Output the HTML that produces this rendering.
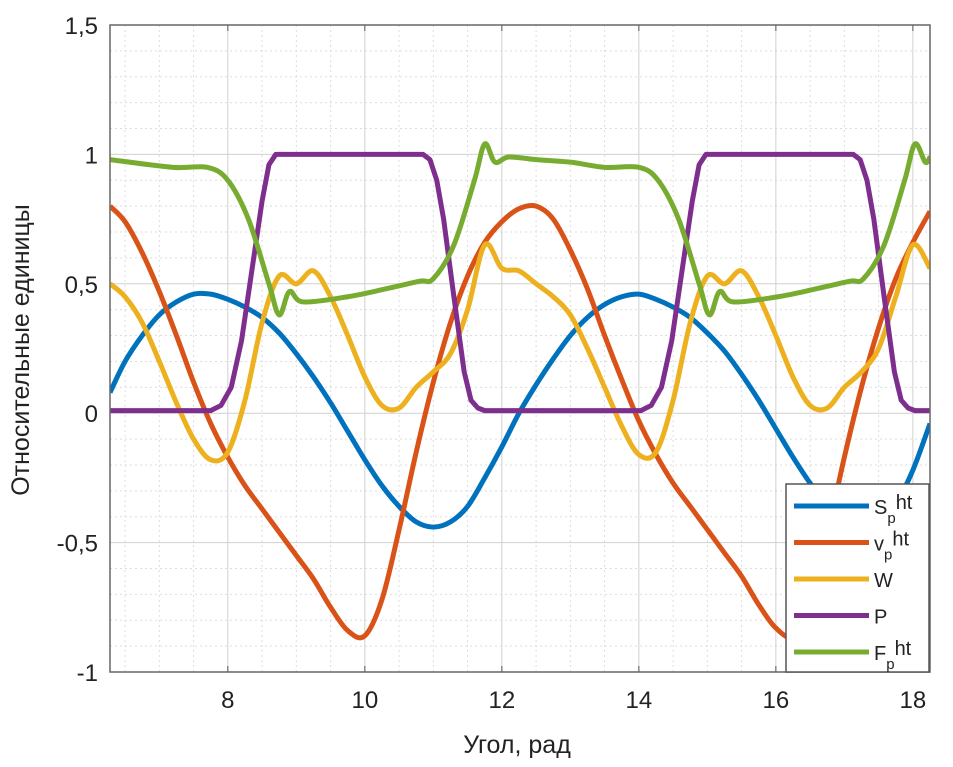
<!DOCTYPE html>
<html><head><meta charset="utf-8"><style>
body{margin:0;background:#fff;}
svg text{font-family:"Liberation Sans",sans-serif;fill:#222;}
</style></head><body>
<svg id="chart" width="953" height="762" viewBox="0 0 953 762">
<g id="grid"></g>
<g id="lines"></g>
<g id="axes"></g>
<g id="legend"></g>
</svg>
<script>
const xTicks=[8,10,12,14,16,18];
const yTicks=[-1,-0.5,0,0.5,1,1.5];
const yTickLabels=["-1","-0,5","0","0,5","1","1,5"];
const xGrid=[6.28,6.5,6.75,7,7.25,7.5,7.75,8,8.25,8.5,8.75,9,9.25,9.5,9.75,10,10.25,10.5,10.75,11,11.25,11.5,11.75,12,12.25,12.5,12.75,13,13.25,13.5,13.75,14,14.25,14.5,14.75,15,15.25,15.5,15.75,16,16.25,16.5,16.75,17,17.25,17.5,17.75,18,18.25];
const sVals=[0.08,0.2,0.3,0.38,0.43,0.46,0.46,0.44,0.41,0.37,0.31,0.23,0.14,0.04,-0.07,-0.18,-0.28,-0.36,-0.42,-0.44,-0.42,-0.36,-0.25,-0.13,0.0,0.11,0.21,0.3,0.37,0.42,0.45,0.46,0.44,0.41,0.37,0.31,0.24,0.15,0.05,-0.06,-0.17,-0.27,-0.35,-0.41,-0.44,-0.42,-0.35,-0.22,-0.04];
const vVals=[0.8,0.74,0.62,0.47,0.3,0.12,-0.04,-0.17,-0.28,-0.37,-0.46,-0.55,-0.64,-0.75,-0.84,-0.86,-0.72,-0.45,-0.15,0.12,0.35,0.53,0.66,0.74,0.79,0.8,0.75,0.63,0.48,0.3,0.13,-0.03,-0.16,-0.27,-0.36,-0.45,-0.54,-0.63,-0.74,-0.83,-0.86,-0.73,-0.47,-0.17,0.1,0.33,0.52,0.66,0.78];
const wVals=[0.5,0.45,0.35,0.2,0.04,-0.1,-0.18,-0.15,0.05,0.35,0.53,0.5,0.55,0.45,0.3,0.14,0.03,0.02,0.1,0.16,0.23,0.4,0.65,0.56,0.55,0.5,0.45,0.38,0.25,0.1,-0.05,-0.16,-0.15,0.05,0.35,0.53,0.5,0.55,0.45,0.3,0.14,0.03,0.02,0.1,0.16,0.25,0.45,0.65,0.56];
const pX=[6.28,7.75,7.9,8.05,8.2,8.35,8.5,8.6,8.7,10.85,10.95,11.05,11.15,11.3,11.45,11.55,11.65,11.75,14.03,14.18,14.33,14.48,14.63,14.78,14.88,14.98,17.13,17.23,17.33,17.43,17.58,17.73,17.83,17.93,18.03,18.25];
const pVals=[0.01,0.01,0.03,0.1,0.28,0.55,0.82,0.96,1,1,0.98,0.9,0.75,0.45,0.16,0.05,0.02,0.01,0.01,0.03,0.1,0.28,0.55,0.82,0.96,1,1,0.98,0.9,0.75,0.45,0.16,0.05,0.02,0.01,0.01];
const fX=[6.28,7.2,7.7,8.0,8.3,8.6,8.75,8.9,9.1,9.75,10.3,10.8,11.0,11.3,11.6,11.75,11.9,12.1,12.5,13.0,13.5,14.0,14.28,14.58,14.88,15.03,15.18,15.38,16.03,16.58,17.08,17.28,17.58,17.88,18.03,18.18,18.25];
const fVals=[0.98,0.95,0.95,0.9,0.75,0.5,0.38,0.47,0.43,0.45,0.48,0.51,0.52,0.65,0.9,1.04,0.97,0.99,0.98,0.97,0.95,0.95,0.9,0.75,0.5,0.38,0.47,0.43,0.45,0.48,0.51,0.52,0.65,0.9,1.04,0.97,0.99];
const legendLabels=[["S","p","ht"],["v","p","ht"],["W","",""],["P","",""],["F","p","ht"]];

const L=110,R=930,T=25,B=672,X0=6.28,X1=18.25,Y0=-1,Y1=1.5;
const sx=x=>L+(x-X0)/(X1-X0)*(R-L);
const sy=y=>B-(y-Y0)/(Y1-Y0)*(B-T);
const NS="http://www.w3.org/2000/svg";
function mk(tag,attrs,parent){const e=document.createElementNS(NS,tag);for(const k in attrs)e.setAttribute(k,attrs[k]);parent.appendChild(e);return e;}
const grid=document.getElementById('grid'),lines=document.getElementById('lines'),axes=document.getElementById('axes'),leg=document.getElementById('legend');
mk('rect',{x:L,y:T,width:R-L,height:B-T,fill:'#fff'},grid);
for(let v=6.5;v<X1;v+=0.5){if(Math.abs(v-Math.round(v/2)*2)<1e-6)continue;const l=mk('line',{x1:sx(v),x2:sx(v),y1:T,y2:B,stroke:'#ddd','stroke-dasharray':'2,3'},grid);}
for(let v=-0.9;v<1.5;v+=0.1){if(Math.abs(v*2-Math.round(v*2))<1e-6)continue;const l=mk('line',{x1:L,x2:R,y1:sy(v),y2:sy(v),stroke:'#ddd','stroke-dasharray':'2,3'},grid);}
xTicks.forEach(v=>{const l=mk('line',{x1:sx(v),x2:sx(v),y1:T,y2:B,stroke:'#d0d0d0'},grid);
 const t=mk('text',{x:sx(v),y:708,'font-size':24,'text-anchor':'middle'},axes);t.textContent=v;
 mk('line',{x1:sx(v),x2:sx(v),y1:B,y2:B-6,stroke:'#555'},axes);mk('line',{x1:sx(v),x2:sx(v),y1:T,y2:T+6,stroke:'#555'},axes);});
yTicks.forEach((v,i)=>{const l=mk('line',{x1:L,x2:R,y1:sy(v),y2:sy(v),stroke:'#d0d0d0'},grid);
 const t=mk('text',{x:98,y:sy(v)+9,'font-size':24,'text-anchor':'end'},axes);t.textContent=yTickLabels[i];});
function smooth(pts){let d='M'+pts[0][0]+','+pts[0][1];for(let i=0;i<pts.length-1;i++){const p0=pts[Math.max(0,i-1)],p1=pts[i],p2=pts[i+1],p3=pts[Math.min(pts.length-1,i+2)];
 d+=' C'+(p1[0]+(p2[0]-p0[0])/6)+','+(p1[1]+(p2[1]-p0[1])/6)+' '+(p2[0]-(p3[0]-p1[0])/6)+','+(p2[1]-(p3[1]-p1[1])/6)+' '+p2[0]+','+p2[1];}return d;}
function linear(pts){return 'M'+pts.map(p=>p[0]+','+p[1]).join(' L');}
const clip=mk('clipPath',{id:'pc'},lines);mk('rect',{x:L,y:T,width:R-L,height:B-T},clip);
const series=[['series-s-p-ht',xGrid,sVals,'#0072bd',1],['series-v-p-ht',xGrid,vVals,'#d95319',1],['series-w',xGrid,wVals,'#edb120',1],['series-p',pX,pVals,'#7e2f8e',0],['series-f-p-ht',fX,fVals,'#77ac30',1]];
series.forEach(s=>{const pts=s[1].map((x,i)=>[sx(x),sy(s[2][i])]);const p=mk('path',{d:s[4]?smooth(pts):linear(pts),fill:'none',stroke:s[3],'stroke-width':5,'stroke-linejoin':'round','clip-path':'url(#pc)'},lines);});
const box=mk('rect',{x:L,y:T,width:R-L,height:B-T,fill:'none',stroke:'#666','stroke-width':1.5},axes);
const lb=mk('rect',{x:786,y:484,width:143,height:188,fill:'#fff',stroke:'#555','stroke-width':1.5},leg);
legendLabels.forEach((lab,i)=>{const y=506+i*36.5;const g=mk('g',{},leg);
 mk('line',{x1:794,x2:869,y1:y,y2:y,stroke:series[i][3],'stroke-width':5},g);
 const t=mk('text',{x:874,y:y+8,'font-size':20,fill:'#333'},g);t.textContent=lab[0];
 if(lab[1]){const a=mk('tspan',{dy:9,'font-size':15},t);a.textContent=lab[1];const b=mk('tspan',{dy:-14},t);b.textContent=lab[2];}});
const xt=mk('text',{x:517,y:753,'font-size':25,'text-anchor':'middle'},axes);xt.textContent='Угол,  рад';
const yt=mk('text',{x:0,y:0,'font-size':25,'text-anchor':'middle',transform:'translate(29,350) rotate(-90)'},axes);yt.textContent='Относительные единицы';
</script>
</body></html>
